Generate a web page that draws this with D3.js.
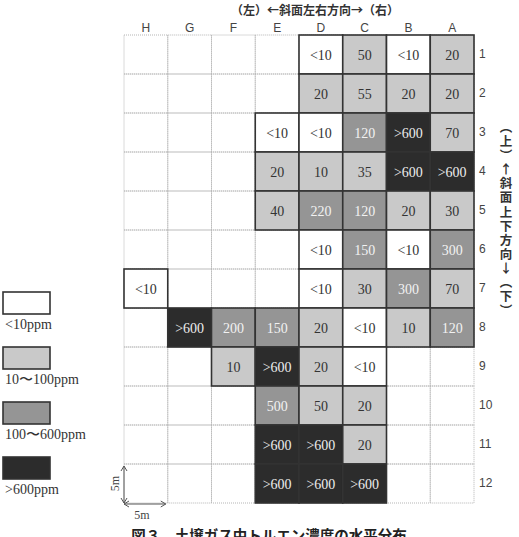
<!DOCTYPE html>
<html><head><meta charset="utf-8">
<script src="https://cdn.jsdelivr.net/npm/d3@7"></script>
<style>
html,body{margin:0;padding:0;background:#fff;}
svg{display:block;}
</style></head>
<body>
<svg id="chart" width="519" height="537"></svg>
<script>
// ---- data ----
const columns = ["H","G","F","E","D","C","B","A"];
const rows = [1,2,3,4,5,6,7,8,9,10,11,12];
const cellCol = [
 "D","C","B","A",
 "D","C","B","A",
 "E","D","C","B","A",
 "E","D","C","B","A",
 "E","D","C","B","A",
 "D","C","B","A",
 "H","D","C","B","A",
 "G","F","E","D","C","B","A",
 "F","E","D","C",
 "E","D","C",
 "E","D","C",
 "E","D","C"];
const cellRow = [
 1,1,1,1,
 2,2,2,2,
 3,3,3,3,3,
 4,4,4,4,4,
 5,5,5,5,5,
 6,6,6,6,
 7,7,7,7,7,
 8,8,8,8,8,8,8,
 9,9,9,9,
 10,10,10,
 11,11,11,
 12,12,12];
const cellLabel = [
 "<10","50","<10","20",
 "20","55","20","20",
 "<10","<10","120",">600","70",
 "20","10","35",">600",">600",
 "40","220","120","20","30",
 "<10","150","<10","300",
 "<10","<10","30","300","70",
 ">600","200","150","20","<10","10","120",
 "10",">600","20","<10",
 "500","50","20",
 ">600",">600","20",
 ">600",">600",">600"];
const legendLabels = ["<10ppm","10〜100ppm","100〜600ppm",">600ppm"];
const topTitle = "（左）←斜面左右方向→（右）";
const sideTitle = "（上）↑斜面上下方向↓（下）";
const caption = "図３　土壌ガス中トルエン濃度の水平分布";

// ---- styles ----
const fills = ["#ffffff","#c9c9c9","#959595","#2c2c2c"];
const textFills = ["#333","#333","#f2f2f2","#eeeeee"];
function level(l){
  if (l.startsWith("<")) return 0;
  if (l.startsWith(">")) return 3;
  const v = +l;
  return v < 100 ? 1 : 2;
}

const svg = d3.select("#chart");
const x = d3.scaleBand().domain(columns).range([124, 474]).padding(0);
const y = d3.scaleBand().domain(rows).range([35, 503]).padding(0);

// background dotted grid
const g = svg.append("g");
columns.forEach(c => rows.forEach(r => {
  g.append("rect").attr("x", x(c)).attr("y", y(r))
   .attr("width", x.bandwidth()).attr("height", y.bandwidth())
   .attr("fill","none").attr("stroke","#b5b5b5").attr("stroke-width",1)
   .attr("stroke-dasharray","1,1");
}));

// cells
const cells = cellLabel.map((l,i)=>({c:cellCol[i], r:cellRow[i], l, lv:level(l)}));
svg.append("g").selectAll("rect").data(cells).join("rect")
  .attr("x", d=>x(d.c)).attr("y", d=>y(d.r))
  .attr("width", x.bandwidth()).attr("height", y.bandwidth())
  .attr("fill", d=>fills[d.lv]).attr("stroke","#333").attr("stroke-width",1.6);
svg.append("g").selectAll("text").data(cells).join("text")
  .attr("x", d=>x(d.c)+x.bandwidth()/2).attr("y", d=>y(d.r)+y.bandwidth()/2+5)
  .attr("text-anchor","middle")
  .attr("font-family","'Liberation Serif', serif").attr("font-size",14)
  .attr("fill", d=>textFills[d.lv]).text(d=>d.l);

// axes
const ax = svg.append("g").attr("transform","translate(0,32)")
  .call(d3.axisTop(x).tickSize(0).tickPadding(0));
ax.select(".domain").remove();
ax.selectAll("text").attr("font-family","'Liberation Sans', Arial, sans-serif")
  .attr("font-size",12).attr("fill","#444");
const ay = svg.append("g").attr("transform","translate(478,0)")
  .call(d3.axisRight(y).tickSize(0).tickPadding(0));
ay.select(".domain").remove();
ay.selectAll("text").attr("font-family","'Liberation Sans', Arial, sans-serif")
  .attr("font-size",12).attr("fill","#444").attr("dx",1);

// titles
svg.append("text").attr("x",315).attr("y",15).attr("text-anchor","middle")
  .attr("font-family","'Noto Sans CJK JP', sans-serif").attr("font-size",12)
  .attr("font-weight","bold").attr("fill","#333").text(topTitle);
svg.append("text").attr("x",506).attr("y",121)
  .style("writing-mode","vertical-rl").style("text-orientation","upright")
  .style("letter-spacing","1.6px")
  .attr("font-family","'Noto Sans CJK JP', sans-serif").attr("font-size",12.5)
  .attr("font-weight","bold").attr("fill","#333").text(sideTitle);
svg.append("text").attr("x",269).attr("y",541).attr("text-anchor","middle")
  .attr("font-family","'Noto Sans CJK JP', sans-serif").attr("font-size",14.5)
  .attr("font-weight","bold").attr("fill","#222").text(caption);

// legend
const leg = svg.append("g");
legendLabels.forEach((l,i)=>{
  const ly = 292 + i*55;
  leg.append("rect").attr("x",3).attr("y",ly).attr("width",47).attr("height",22)
    .attr("fill",fills[i]).attr("stroke","#333").attr("stroke-width",1.6);
  leg.append("text").attr("x",5).attr("y",ly+37)
    .attr("font-family","'Liberation Serif', serif").attr("font-size",14)
    .attr("fill","#333").text(l);
});

// scale bar
const sb = svg.append("g").attr("stroke","#555").attr("stroke-width",1).attr("fill","none");
const x0 = x("H"), x1 = x("G"), y0 = y(12), y1 = y(12)+y.bandwidth();
sb.append("line").attr("x1",x0).attr("y1",y0+2).attr("x2",x0).attr("y2",y1);
sb.append("path").attr("d",`M${x0-3},${y0+7}L${x0},${y0+2}L${x0+3},${y0+7}`);
sb.append("path").attr("d",`M${x0-3},${y1-5}L${x0},${y1}L${x0+3},${y1-5}`);
sb.append("line").attr("x1",x0).attr("y1",y1+1).attr("x2",x1-2).attr("y2",y1+1);
sb.append("path").attr("d",`M${x0+5},${y1-2}L${x0},${y1+1}L${x0+5},${y1+4}`);
sb.append("path").attr("d",`M${x1-7},${y1-2}L${x1-2},${y1+1}L${x1-7},${y1+4}`);
svg.append("text").attr("x",x0+18).attr("y",y1+16).attr("text-anchor","middle")
  .attr("font-family","'Liberation Serif', serif").attr("font-size",12).attr("fill","#444").text("5m");
svg.append("text").attr("transform",`translate(${x0-5},${(y0+y1)/2}) rotate(-90)`)
  .attr("text-anchor","middle").attr("font-family","'Liberation Serif', serif")
  .attr("font-size",12).attr("fill","#444").text("5m");
</script>
</body></html>
